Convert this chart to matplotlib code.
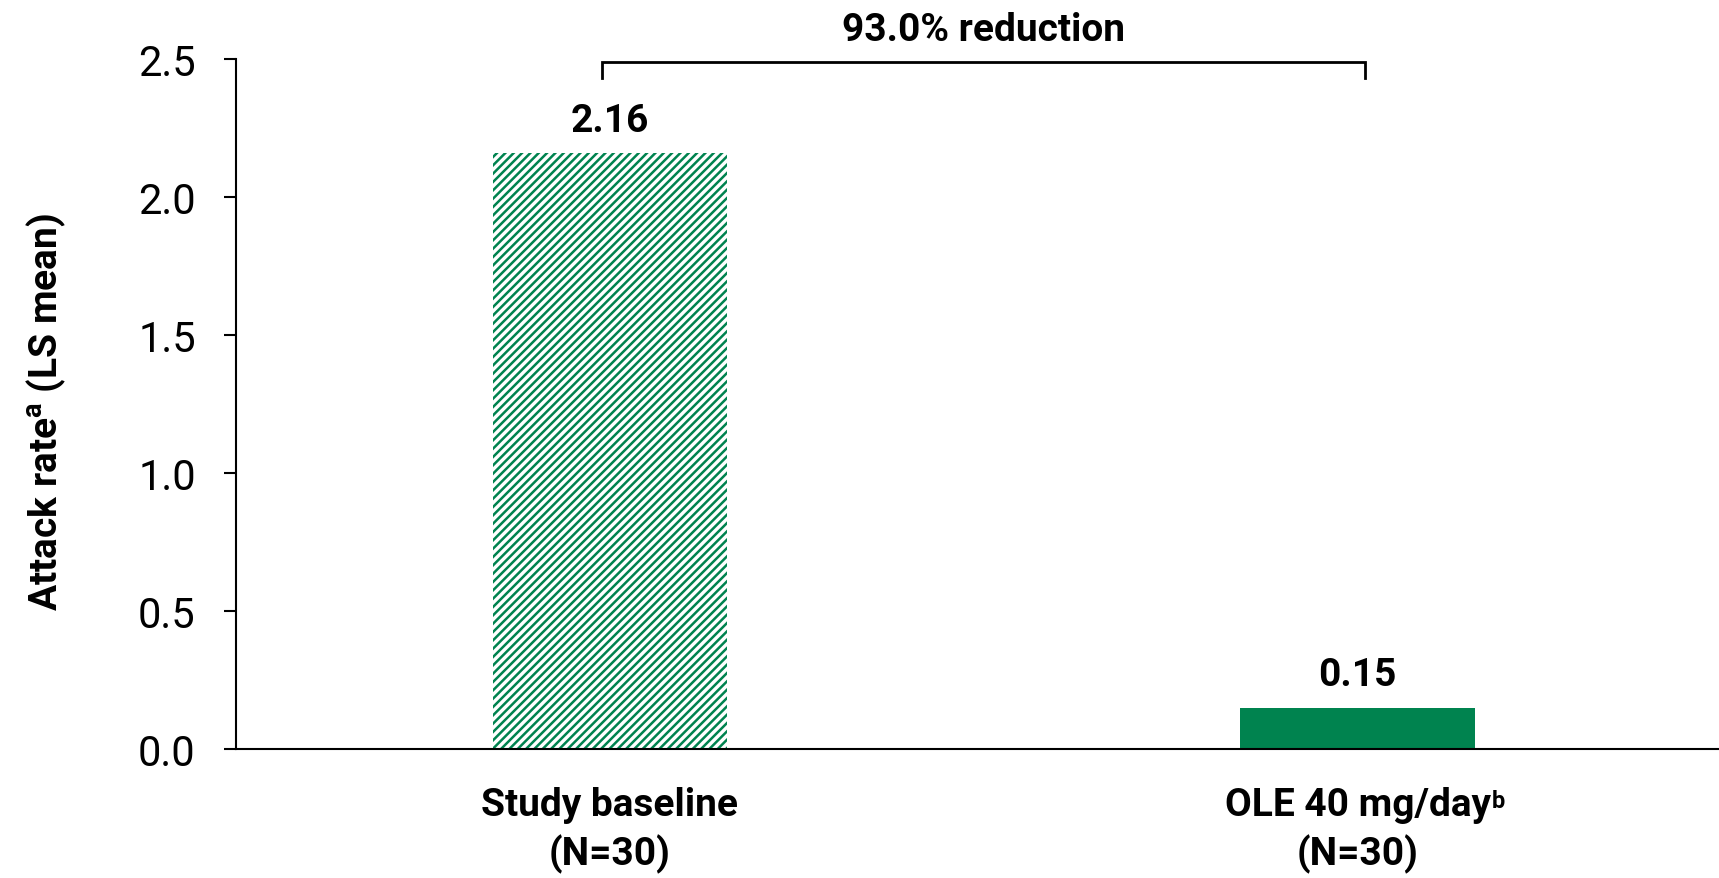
import matplotlib
matplotlib.use('Agg')
import matplotlib.pyplot as plt
from matplotlib import font_manager

# pick a narrow face if one is present
names = {f.name for f in font_manager.fontManager.ttflist}
narrow = 'Liberation Sans Narrow' if 'Liberation Sans Narrow' in names else 'Roboto'

plt.rcParams['font.family'] = [narrow, 'DejaVu Sans']
plt.rcParams['mathtext.fontset'] = 'custom'
plt.rcParams['mathtext.rm'] = narrow
plt.rcParams['mathtext.bf'] = narrow + ':bold'
plt.rcParams['hatch.linewidth'] = 1.8

categories = ['Study baseline\n(N=30)', 'OLE 40 mg/day\n(N=30)']
category_notes = ['', 'b']
values = [2.16, 0.15]
value_labels = ['2.16', '0.15']
reduction_text = '93.0% reduction'
yticks = [0.0, 0.5, 1.0, 1.5, 2.0, 2.5]

green = '#00834F'
bold_size = 28

fig = plt.figure(figsize=(17.19, 8.79), dpi=100)
ax = fig.add_axes([0.1373, 0.1468, 0.8627, 0.7849])

x = [0, 1]
ax.bar(x[0], values[0], width=0.314, color='white', edgecolor=green,
       hatch='////', linewidth=0)
ax.bar(x[1], values[1], width=0.314, color=green, linewidth=0)

for xi, v, s in zip(x, values, value_labels):
    ax.annotate(s, (xi, v), xytext=(0, 16), textcoords='offset points',
                ha='center', va='baseline', fontsize=bold_size, fontweight='bold')

# bracket between the two bars
ax.plot([-0.01, -0.01, 1.01, 1.01], [2.43, 2.49, 2.49, 2.43], color='black',
        lw=2, clip_on=False, solid_joinstyle='miter')
ax.text(0.5, 2.57, reduction_text, ha='center', va='baseline',
        fontsize=bold_size, fontweight='bold', clip_on=False)

ax.set_xlim(-0.5, 1.483)
ax.set_ylim(0, 2.5)
ax.set_yticks(yticks)
ax.set_yticklabels(['%.1f' % t for t in yticks], fontsize=30)
ax.set_xticks(x)
ax.set_xticklabels(categories, fontsize=bold_size, fontweight='bold', linespacing=1.32)
ax.tick_params(axis='x', length=0, pad=27)
ax.tick_params(axis='y', length=9, width=1.5, pad=20, direction='out')

# footnote letters next to the first line of the category labels
for lab, note in zip(ax.get_xticklabels(), category_notes):
    if note:
        ax.annotate(note, xy=(1, 1), xycoords=lab, xytext=(1, -2),
                    textcoords='offset points', ha='left', va='top',
                    fontsize=17, fontweight='bold')

ax.spines['top'].set_visible(False)
ax.spines['right'].set_visible(False)
ax.spines['left'].set_linewidth(1.5)
ax.spines['bottom'].set_linewidth(1.5)

ax.set_ylabel('Attack rate$^{\\mathbf{a}}$ (LS mean)', fontsize=bold_size, fontweight='bold')
ax.yaxis.set_label_coords(-0.113, 0.49)

fig.savefig('out.png', dpi=100)
